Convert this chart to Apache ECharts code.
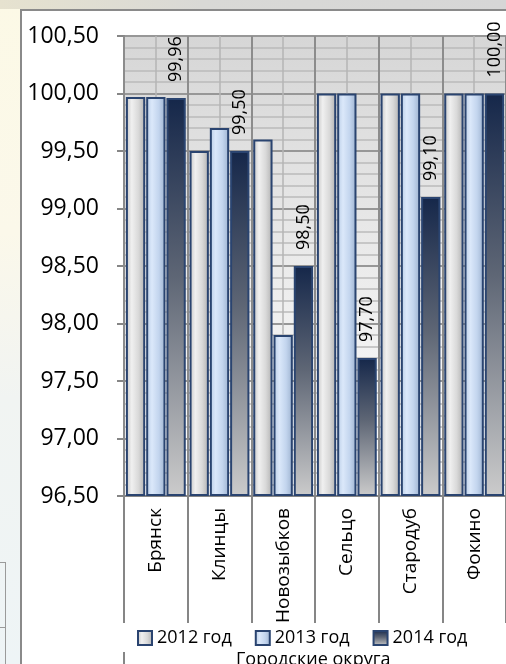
<!DOCTYPE html>
<html><head><meta charset="utf-8">
<script src="https://cdn.jsdelivr.net/npm/echarts@6/dist/echarts.min.js"></script>
<style>
html,body{margin:0;padding:0;width:506px;height:664px;overflow:hidden;}
#bg{position:absolute;left:0;top:0;width:506px;height:664px;background:linear-gradient(to bottom,#fcf9e6 0%,#fbf8ea 35%,#f1f4f2 60%,#eef4f6 100%);}
#topstrip{position:absolute;left:0;top:0;width:506px;height:9px;background:linear-gradient(to right,#e6e2cf,#d9d9d6 40%,#d6d6d6);}
#frame{position:absolute;left:20px;top:9px;width:600px;height:700px;border:2px solid #8a8a8a;background:#fff;box-sizing:border-box;}
#tv{position:absolute;left:5px;top:562px;width:1px;height:102px;background:#9a9a9a;}
#th1{position:absolute;left:0;top:562px;width:6px;height:1px;background:#9a9a9a;}
#th2{position:absolute;left:0;top:627px;width:6px;height:1px;background:#9a9a9a;}
#stub{position:absolute;left:123px;top:652px;width:2px;height:12px;background:#868686;}
#chart{position:absolute;left:0;top:0;width:506px;height:664px;}
</style></head>
<body>
<div id="bg"></div><div id="topstrip"></div><div id="tv"></div><div id="th1"></div><div id="th2"></div>
<div id="frame"></div><div id="stub"></div>
<div id="chart"></div>
<script>
var categories = ['Брянск', 'Клинцы', 'Новозыбков', 'Сельцо', 'Стародуб', 'Фокино'];
var seriesNames = ['2012 год', '2013 год', '2014 год'];
var y2012 = [99.97, 99.50, 99.60, 100.00, 100.00, 100.00];
var y2013 = [99.97, 99.70, 97.90, 100.00, 100.00, 100.00];
var y2014 = [99.96, 99.50, 98.50, 97.70, 99.10, 100.00];
var yTicks = [96.5, 97, 97.5, 98, 98.5, 99, 99.5, 100, 100.5];

var FONT = 'Open Sans';
function fmt(v) { return Number(v).toFixed(2).replace('.', ','); }
var G = echarts.graphic.LinearGradient;
var border = '#2a4470';

var chart = echarts.init(document.getElementById('chart'), null, {renderer: 'canvas'});
chart.setOption({
  animation: false,
  backgroundColor: 'transparent',
  textStyle: {fontFamily: FONT},
  title: {
    text: 'Городские округа', left: 236, top: 651, padding: 0,
    textStyle: {fontSize: 18, fontWeight: 'normal', color: '#000', fontFamily: FONT}
  },
  legend: {
    data: seriesNames, left: 134, top: 626, icon: 'rect',
    itemWidth: 14, itemHeight: 14, itemGap: 23,
    backgroundColor: '#fff', padding: [3, 3, 3, 3],
    textStyle: {fontSize: 18, color: '#000', fontFamily: FONT}
  },
  grid: {
    left: 124, top: 36, width: 393, height: 460, show: true, borderWidth: 0,
    backgroundColor: new G(0, 0, 0, 1, [
      {offset: 0, color: '#d6d6d6'}, {offset: 0.5, color: '#ebebeb'},
      {offset: 0.75, color: '#f5f5f5'}, {offset: 1, color: '#ffffff'}])
  },
  xAxis: [{
    type: 'category', data: categories, z: 1,
    axisLine: {lineStyle: {color: '#868686', width: 2}},
    axisTick: {show: true, length: 127, alignWithLabel: false, lineStyle: {color: '#868686', width: 2}},
    axisLabel: {rotate: 90, fontSize: 19, color: '#000', margin: 12, fontFamily: FONT},
    splitLine: {show: true, lineStyle: {color: '#8c8c8c', width: 2}}
  }, {
    type: 'value', min: 0, max: 12, interval: 1, position: 'top', z: 0,
    axisLine: {show: false}, axisTick: {show: false}, axisLabel: {show: false},
    splitLine: {show: true, lineStyle: {color: '#b4b4b4', width: 1.5}}
  }],
  yAxis: {
    type: 'value', min: 96.5, max: 100.5, interval: 0.5, startValue: 96.5,
    axisLine: {show: true, lineStyle: {color: '#868686', width: 2}},
    axisTick: {show: true, length: 7, lineStyle: {color: '#868686', width: 2}},
    axisLabel: {fontSize: 23, color: '#000', margin: 25, fontFamily: FONT, formatter: fmt},
    splitLine: {show: true, lineStyle: {color: '#979797', width: 2}},
    minorTick: {show: false, splitNumber: 5},
    minorSplitLine: {show: true, lineStyle: {color: '#bababa', width: 1.5}}
  },
  series: [{
    name: seriesNames[0], type: 'bar', data: y2012, xAxisIndex: 0,
    barGap: '5%', barCategoryGap: '6%',
    itemStyle: {
      borderColor: border, borderWidth: 2,
      color: new G(0, 0, 1, 0, [
        {offset: 0, color: '#c4c4c4'}, {offset: 0.3, color: '#f0f0f0'},
        {offset: 0.65, color: '#d9d9d9'}, {offset: 1, color: '#b0b0b0'}])
    }
  }, {
    name: seriesNames[1], type: 'bar', data: y2013, xAxisIndex: 0,
    barGap: '5%', barCategoryGap: '6%',
    itemStyle: {
      borderColor: border, borderWidth: 2,
      color: new G(0, 0, 1, 0, [
        {offset: 0, color: '#b9cde6'}, {offset: 0.3, color: '#dbe8fa'},
        {offset: 0.65, color: '#c3d5ee'}, {offset: 1, color: '#9db2cf'}])
    }
  }, {
    name: seriesNames[2], type: 'bar', data: y2014, xAxisIndex: 0,
    barGap: '5%', barCategoryGap: '6%',
    itemStyle: {
      borderColor: border, borderWidth: 2,
      color: new G(0, 0, 0, 1, [
        {offset: 0, color: '#15274a'}, {offset: 0.45, color: '#5e6675'},
        {offset: 1, color: '#cbcbcb'}])
    },
    label: {
      show: true, position: 'top', rotate: 90, align: 'left', verticalAlign: 'middle',
      distance: 16, fontSize: 18, color: '#000', fontFamily: FONT,
      formatter: function (p) { return fmt(y2014[p.dataIndex]); }
    }
  }]
});
</script>
</body></html>
